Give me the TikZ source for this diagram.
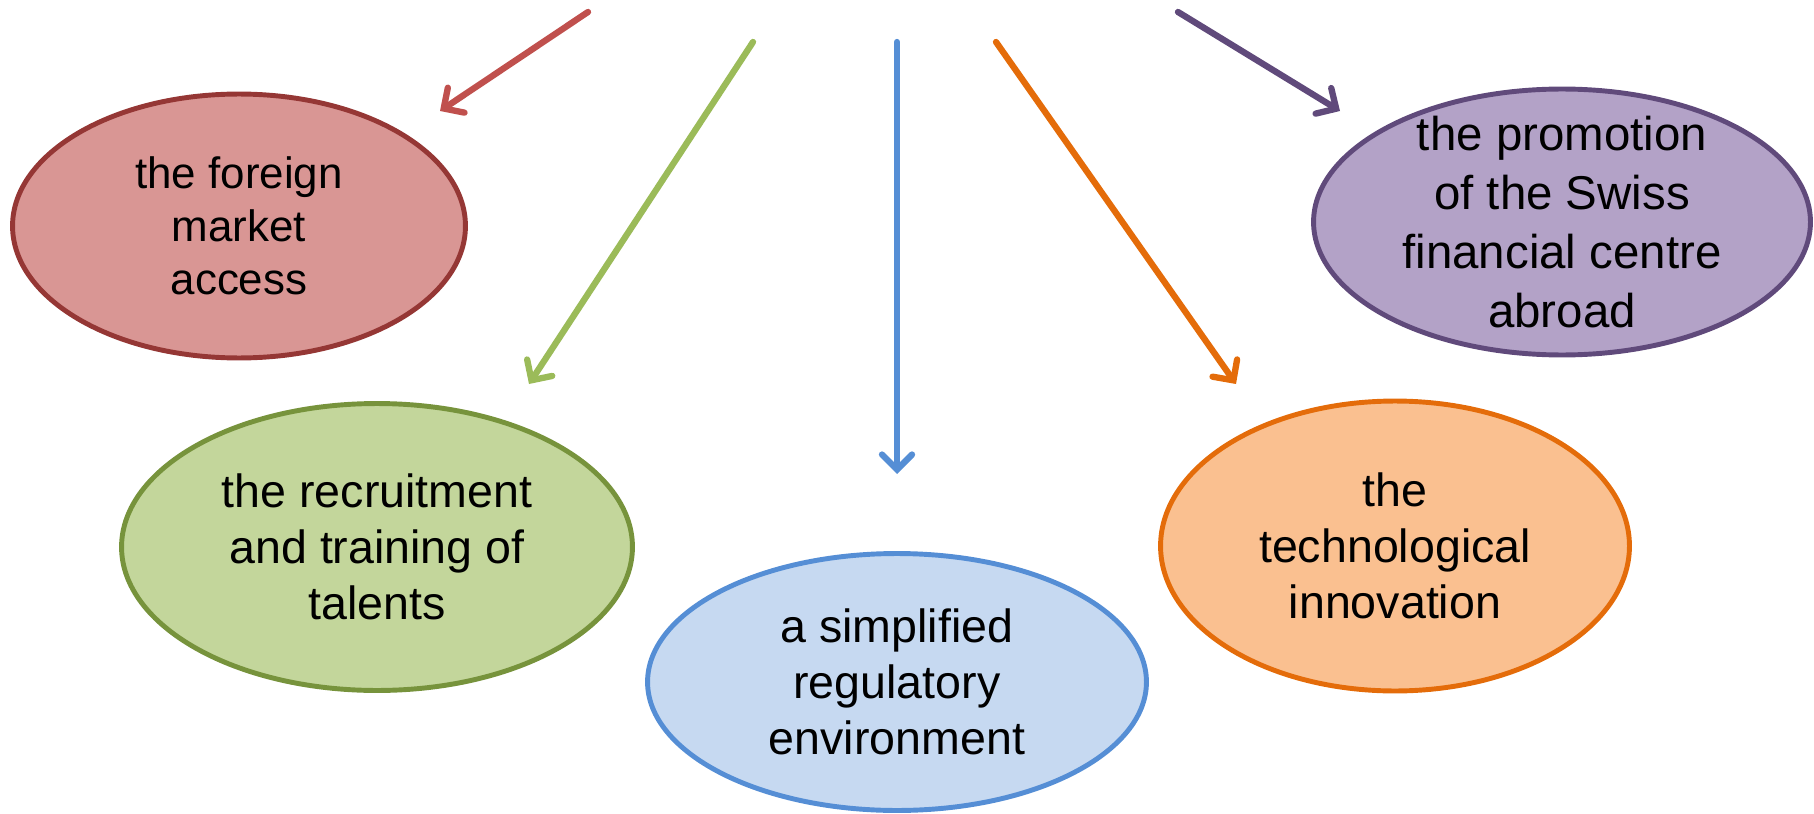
\documentclass[tikz,border=0pt]{standalone}
\usepackage{fontspec}
\setmainfont{Liberation Sans}
\usetikzlibrary{shapes.geometric,arrows.meta}

\definecolor{redfill}{HTML}{D99694}
\definecolor{redline}{HTML}{953735}
\definecolor{redarrow}{HTML}{C0504D}
\definecolor{greenfill}{HTML}{C3D69B}
\definecolor{greenline}{HTML}{77933C}
\definecolor{greenarrow}{HTML}{9BBB59}
\definecolor{bluefill}{HTML}{C6D9F1}
\definecolor{blueline}{HTML}{558ED5}
\definecolor{orangefill}{HTML}{FAC090}
\definecolor{orangeline}{HTML}{E46C0A}
\definecolor{purplefill}{HTML}{B3A2C7}
\definecolor{purpleline}{HTML}{604A7B}

\tikzset{
  goal/.style={ellipse, draw, line width=2.8pt, inner sep=-30pt, align=center,
    font=\fontsize{26.5}{32}\selectfont},
  pointer/.style={line width=3.6pt, line cap=round,
    -{Straight Barb[length=0.3cm,width=0.6cm,line cap=round]}}
}

\begin{document}
\begin{tikzpicture}[x=0.02cm,y=-0.02cm]
        \useasboundingbox (0,0) rectangle (1814,814);

        \node[goal, fill=redfill, draw=redline, minimum width=9.06cm, minimum height=5.28cm, font=\fontsize{25}{30}\selectfont] (access) at (239,226) {the foreign\\market\\access};
        \node[goal, fill=greenfill, draw=greenline, minimum width=10.22cm, minimum height=5.74cm] (talents) at (377,547) {the recruitment\\and training of\\talents};
        \node[goal, fill=bluefill, draw=blueline, minimum width=9.98cm, minimum height=5.14cm] (regulation) at (897,682) {a simplified\\regulatory\\environment};
        \node[goal, fill=orangefill, draw=orangeline, minimum width=9.38cm, minimum height=5.8cm] (innovation) at (1395,546) {the\\technological\\innovation};
        \node[goal, fill=purplefill, draw=purpleline, minimum width=9.94cm, minimum height=5.32cm, font=\fontsize{27}{33.5}\selectfont] (promotion) at (1562,222) {the promotion\\of the Swiss\\financial centre\\abroad};

        \coordinate (from-red) at (588,12);
        \coordinate (to-red) at (440,111);
        \coordinate (from-green) at (753,42);
        \coordinate (to-green) at (529,384);
        \coordinate (from-blue) at (897,42);
        \coordinate (to-blue) at (897,474);
        \coordinate (from-orange) at (996,42);
        \coordinate (to-orange) at (1236,384);
        \coordinate (from-purple) at (1178,12);
        \coordinate (to-purple) at (1340,111);

        \draw[pointer, redarrow] (from-red) -- (to-red);
        \draw[pointer, greenarrow] (from-green) -- (to-green);
        \draw[pointer, blueline] (from-blue) -- (to-blue);
        \draw[pointer, orangeline] (from-orange) -- (to-orange);
        \draw[pointer, purpleline] (from-purple) -- (to-purple);
      \end{tikzpicture}
\end{document}
